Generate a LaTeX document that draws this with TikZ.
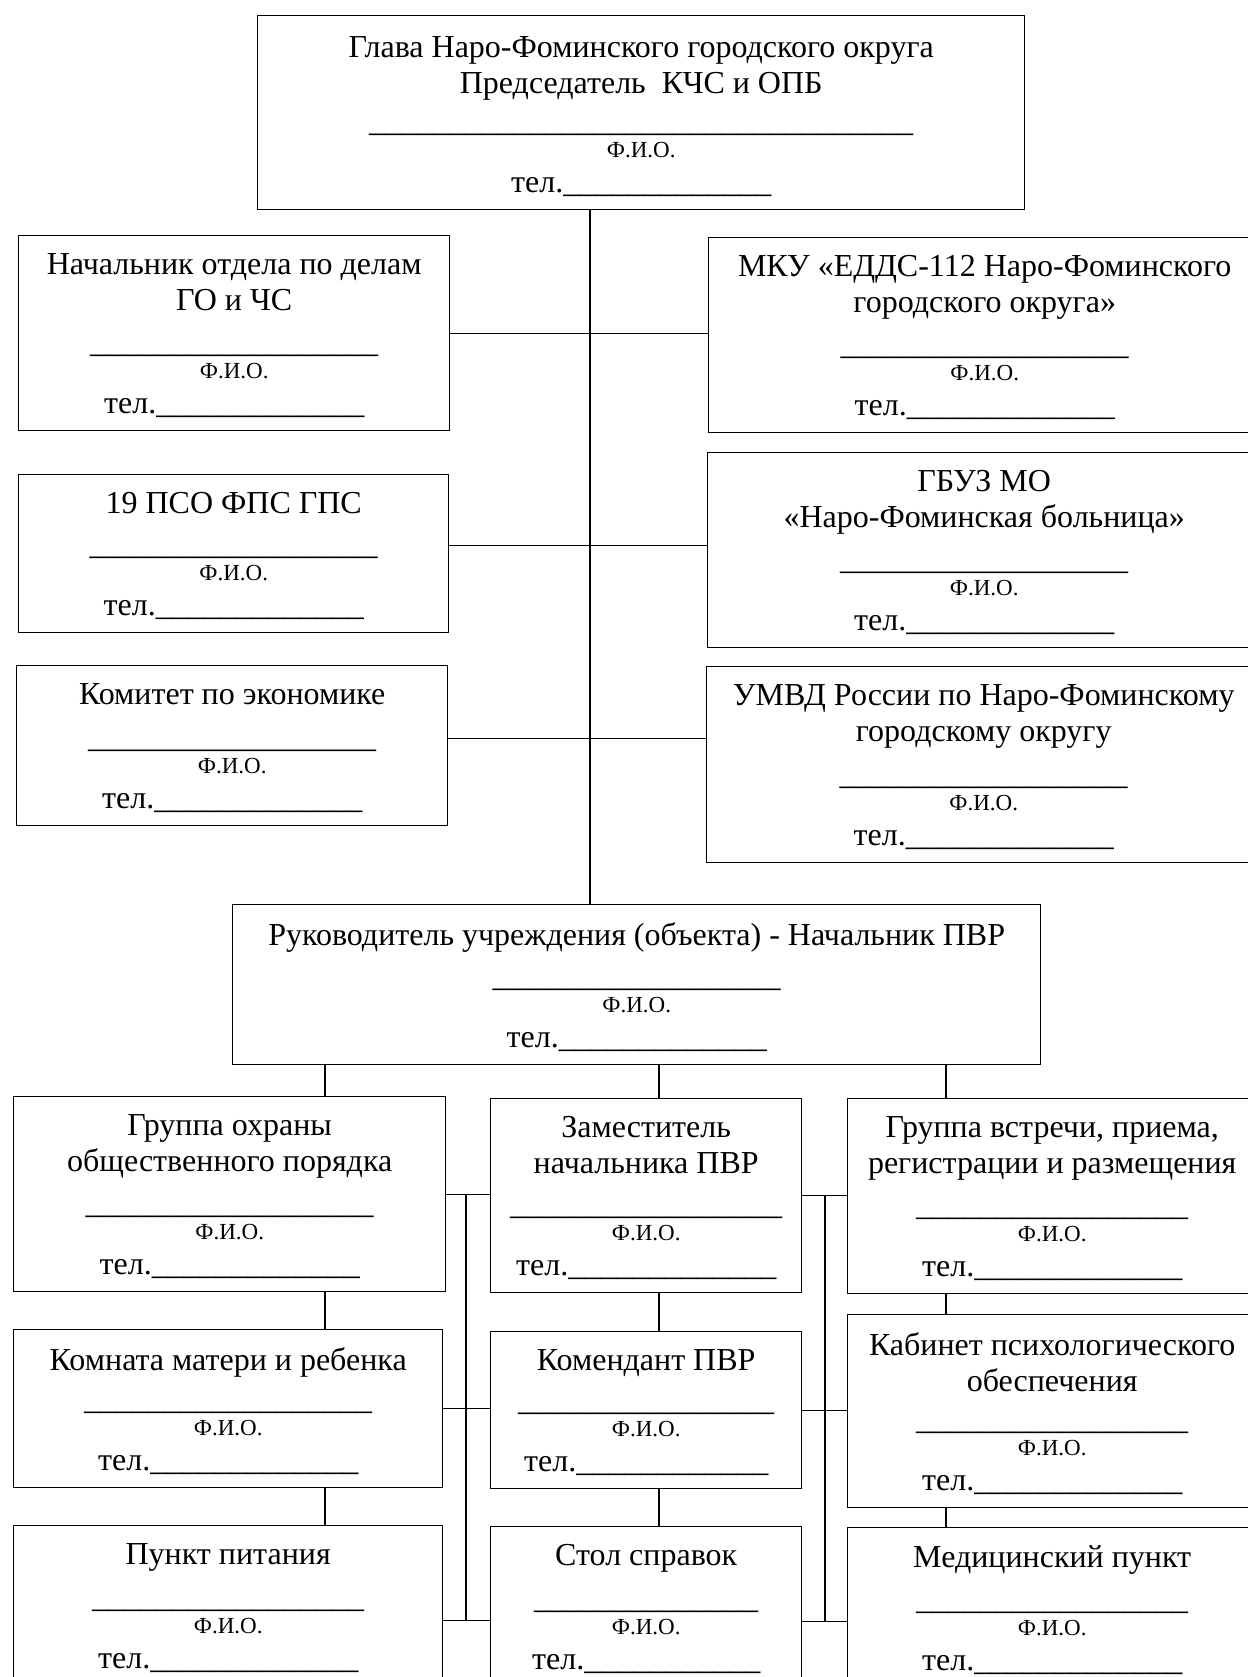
\documentclass[tikz,border=0pt]{standalone}
\usepackage{fontspec}
\setmainfont{Liberation Serif}
\usetikzlibrary{positioning}
\newcommand\blank[1]{\foreach\nn in {1,...,#1}{\_}}
\newcommand\fio[2]{\blank{#1}\\[-10.6pt]{\fontsize{23}{24}\selectfont Ф.И.О.}\\[-1.6pt]тел.\blank{#2}}
\tikzset{
  card/.style={draw, line width=1.4pt, anchor=north west, inner sep=0},
  ttl/.style={align=center, inner sep=0, font=\fontsize{32}{36.4}\selectfont},
  link/.style={line width=1.2pt}
}

\begin{document}
\begin{tikzpicture}[x=1pt, y=-1pt]
  \useasboundingbox (0,0) rectangle (1247,1677);
  \coordinate (spine) at (590,0);
  \coordinate (c1) at (325,0);
  \coordinate (c2) at (659,0);
  \coordinate (c3) at (946,0);
  \coordinate (bus1) at (466,0);
  \coordinate (bus2) at (825,0);
  \node[card, minimum width=767pt, minimum height=194pt] (head) at (257,15) {};
  \node[card, minimum width=431pt, minimum height=195pt] (nach) at (18,235) {};
  \node[card, minimum width=552pt, minimum height=195pt] (mku) at (708,237) {};
  \node[card, minimum width=430pt, minimum height=158pt] (pso) at (18,474) {};
  \node[card, minimum width=553pt, minimum height=195pt] (gbuz) at (707,452) {};
  \node[card, minimum width=431pt, minimum height=160pt] (kom) at (16,665) {};
  \node[card, minimum width=554pt, minimum height=196pt] (umvd) at (706,666) {};
  \node[card, minimum width=808pt, minimum height=160pt] (pvr) at (232,904) {};
  \node[card, minimum width=432pt, minimum height=195pt] (grp) at (13,1096) {};
  \node[card, minimum width=311pt, minimum height=194pt] (zam) at (490,1098) {};
  \node[card, minimum width=409pt, minimum height=195pt] (vstr) at (847,1098) {};
  \node[card, minimum width=429pt, minimum height=158pt] (kmr) at (13,1329) {};
  \node[card, minimum width=311pt, minimum height=157pt] (kmd) at (490,1331) {};
  \node[card, minimum width=409pt, minimum height=193pt] (kab) at (847,1314) {};
  \node[card, minimum width=429pt, minimum height=160pt] (pit) at (13,1525) {};
  \node[card, minimum width=311pt, minimum height=160pt] (spr) at (490,1526) {};
  \node[card, minimum width=409pt, minimum height=160pt] (med) at (847,1527) {};

  \node[ttl, below=21pt of head.north] (headT) {Глава Наро-Фоминского городского округа\\Председатель\ \ КЧС и ОПБ};
  \node[ttl, below=18pt of nach.north] (nachT) {Начальник отдела по делам\\ГО и ЧС};
  \node[ttl, below=18pt of mku.north] (mkuT) {МКУ «ЕДДС-112 Наро-Фоминского\\городского округа»};
  \node[ttl, below=18pt of pso.north] (psoT) {19 ПСО ФПС ГПС};
  \node[ttl, below=18pt of gbuz.north] (gbuzT) {ГБУЗ МО\\«Наро-Фоминская больница»};
  \node[ttl, below=18pt of kom.north] (komT) {Комитет по экономике};
  \node[ttl, below=18pt of umvd.north] (umvdT) {УМВД России по Наро-Фоминскому\\городскому округу};
  \node[ttl, below=18pt of pvr.north] (pvrT) {Руководитель учреждения (объекта) - Начальник ПВР};
  \node[ttl, below=18pt of grp.north] (grpT) {Группа охраны\\общественного порядка};
  \node[ttl, below=18pt of zam.north] (zamT) {Заместитель\\начальника ПВР};
  \node[ttl, below=18pt of vstr.north] (vstrT) {Группа встречи, приема,\\регистрации и размещения};
  \node[ttl, below=18pt of kmr.north] (kmrT) {Комната матери и ребенка};
  \node[ttl, below=18pt of kmd.north] (kmdT) {Комендант ПВР};
  \node[ttl, below=18pt of kab.north] (kabT) {Кабинет психологического\\обеспечения};
  \node[ttl, below=18pt of pit.north] (pitT) {Пункт питания};
  \node[ttl, below=18pt of spr.north] (sprT) {Стол справок};
  \node[ttl, below=18pt of med.north] (medT) {Медицинский пункт};

  \node[ttl, above=14pt of head.south] (headF) {\fio{34}{13}};
  \node[ttl, above=14pt of nach.south] (nachF) {\fio{18}{13}};
  \node[ttl, above=14pt of mku.south] (mkuF) {\fio{18}{13}};
  \node[ttl, above=14pt of pso.south] (psoF) {\fio{18}{13}};
  \node[ttl, above=14pt of gbuz.south] (gbuzF) {\fio{18}{13}};
  \node[ttl, above=14pt of kom.south] (komF) {\fio{18}{13}};
  \node[ttl, above=14pt of umvd.south] (umvdF) {\fio{18}{13}};
  \node[ttl, above=14pt of pvr.south] (pvrF) {\fio{18}{13}};
  \node[ttl, above=14pt of grp.south] (grpF) {\fio{18}{13}};
  \node[ttl, above=14pt of zam.south] (zamF) {\fio{17}{13}};
  \node[ttl, above=14pt of vstr.south] (vstrF) {\fio{17}{13}};
  \node[ttl, above=14pt of kmr.south] (kmrF) {\fio{18}{13}};
  \node[ttl, above=14pt of kmd.south] (kmdF) {\fio{16}{12}};
  \node[ttl, above=14pt of kab.south] (kabF) {\fio{17}{13}};
  \node[ttl, above=14pt of pit.south] (pitF) {\fio{17}{13}};
  \node[ttl, above=14pt of spr.south] (sprF) {\fio{14}{11}};
  \node[ttl, above=14pt of med.south] (medF) {\fio{17}{13}};

  \draw[link] (head.south -| spine) -- (pvr.north -| spine);
  \draw[link] (nach.east) -- (nach.east -| mku.west);
  \draw[link] ([yshift=8pt]pso.east) -- ([yshift=8pt]pso.east -| gbuz.west);
  \draw[link] ([yshift=7pt]kom.east) -- ([yshift=7pt]kom.east -| umvd.west);
  \draw[link] (pvr.south -| c1) -- (grp.north -| c1) (grp.south -| c1) -- (kmr.north -| c1) (kmr.south -| c1) -- (pit.north -| c1);
  \draw[link] (pvr.south -| c2) -- (zam.north -| c2) (zam.south -| c2) -- (kmd.north -| c2) (kmd.south -| c2) -- (spr.north -| c2);
  \draw[link] (pvr.south -| c3) -- (vstr.north -| c3) (vstr.south -| c3) -- (kab.north -| c3) (kab.south -| c3) -- (med.north -| c3);
  \draw[link] (grp.east) -- (grp.east -| zam.west) (kmr.east) -- (kmr.east -| kmd.west) ([yshift=-15pt]pit.east) -- ([yshift=-15pt]pit.east -| spr.west);
  \draw[link] (grp.east -| bus1) -- ([yshift=-15pt]pit.east -| bus1);
  \draw[link] (zam.east) -- (zam.east -| vstr.west) (kmd.east) -- (kmd.east -| kab.west) ([yshift=-15pt]spr.east) -- ([yshift=-15pt]spr.east -| med.west);
  \draw[link] (zam.east -| bus2) -- ([yshift=-15pt]spr.east -| bus2);
\end{tikzpicture}
\end{document}
